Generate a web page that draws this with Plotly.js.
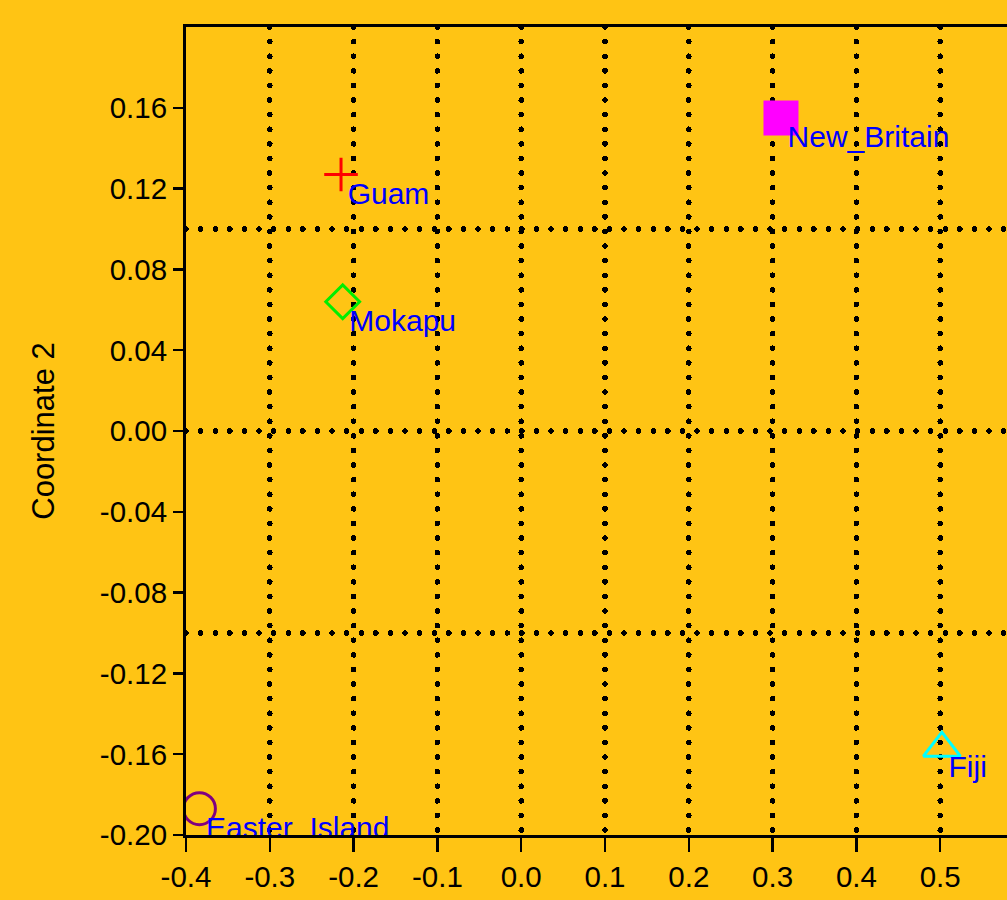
<!DOCTYPE html>
<html>
<head>
<meta charset="utf-8">
<script src="https://cdn.plot.ly/plotly-3.0.1.min.js"></script>
<style>
html, body { margin: 0; padding: 0; overflow: hidden; background: #FFC414; }
#chart { width: 1034px; height: 900px; }
.gridlayer path { stroke-linecap: round; }
</style>
</head>
<body>
<div id="chart"></div>
<script>
// ---- data ----
var sites = ["Guam", "New_Britain", "Mokapu", "Fiji", "Easter_Island"];
var coord1 = [-0.215, 0.310, -0.213, 0.502, -0.384];
var coord2 = [0.127, 0.155, 0.064, -0.157, -0.187];

var xTickVals = [-0.4, -0.3, -0.2, -0.1, 0.0, 0.1, 0.2, 0.3, 0.4, 0.5];
var xTickText = ["-0.4", "-0.3", "-0.2", "-0.1", "0.0", "0.1", "0.2", "0.3", "0.4", "0.5"];
var yTickVals = [0.16, 0.12, 0.08, 0.04, 0.00, -0.04, -0.08, -0.12, -0.16, -0.20];
var yTickText = ["0.16", "0.12", "0.08", "0.04", "0.00", "-0.04", "-0.08", "-0.12", "-0.16", "-0.20"];

// ---- styles ----
var markerStyles = [
  {symbol: "cross-thin-open", size: 24, color: "#FF0000", lw: 3},
  {symbol: "square", size: 35, color: "#FF00FF", lw: 0},
  {symbol: "diamond-open", size: 26, color: "#00EE00", lw: 3},
  {symbol: "triangle-up-open", size: 32, color: "#00FFFF", lw: 3},
  {symbol: "circle-open", size: 32, color: "#800080", lw: 3}
];

var bg = "#FFC414";
var fontFam = "Liberation Sans, Arial, sans-serif";

var traces = sites.map(function (s, i) {
  var st = markerStyles[i];
  return {
    type: "scatter", mode: "markers", name: s,
    x: [coord1[i]], y: [coord2[i]],
    marker: {symbol: st.symbol, size: st.size, color: st.color,
             line: {color: st.color, width: st.lw}},
    hoverinfo: "skip", showlegend: false
  };
});

traces.push({
  type: "scatter", mode: "markers+text",
  x: coord1, y: coord2, yaxis: "y2",
  text: sites, textposition: "bottom right",
  textfont: {family: fontFam, size: 30, color: "#0000FF"},
  marker: {size: 9, opacity: 0},
  hoverinfo: "skip", showlegend: false
});

var gridDash = "0.1px,14.5px";

var layout = {
  width: 1034, height: 900,
  margin: {l: 186, r: 10, t: 27, b: 65},
  paper_bgcolor: bg, plot_bgcolor: bg,
  font: {family: fontFam, color: "#000000"},
  showlegend: false,
  xaxis: {
    range: [-0.4, 0.6],
    tickvals: xTickVals, ticktext: xTickText,
    ticks: "outside", ticklen: 14, tickwidth: 2.5, tickcolor: "#000",
    tickfont: {size: 29.5, family: fontFam},
    showline: true, linecolor: "#000", linewidth: 3, mirror: true,
    showgrid: true, gridcolor: "#000", gridwidth: 5.5, griddash: gridDash,
    zeroline: false
  },
  yaxis: {
    range: [-0.2, 0.2],
    tickvals: yTickVals, ticktext: yTickText,
    ticks: "outside", ticklen: 10, tickwidth: 2.5, tickcolor: "#000",
    tickfont: {size: 29.5, family: fontFam},
    showline: true, linecolor: "#000", linewidth: 3, mirror: true,
    showgrid: false, zeroline: false,
    title: {text: "Coordinate 2", font: {size: 31, family: fontFam}, standoff: 36}
  },
  yaxis2: {
    overlaying: "y", side: "left",
    range: [-0.2, 0.2], tick0: 0, dtick: 0.1,
    showticklabels: false, ticks: "",
    showgrid: true, gridcolor: "#000", gridwidth: 5.5, griddash: gridDash,
    zeroline: false, showline: false
  }
};

Plotly.newPlot("chart", traces, layout, {displayModeBar: false, staticPlot: true});
</script>
</body>
</html>
